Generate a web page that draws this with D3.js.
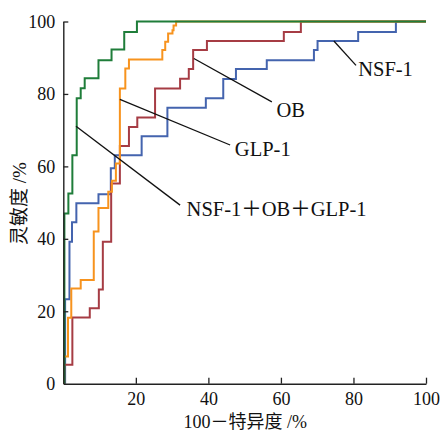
<!DOCTYPE html>
<html>
<head>
<meta charset="utf-8">
<script src="https://cdn.jsdelivr.net/npm/d3@7"></script>
<style>
  body { margin: 0; background: #fff; }
  svg text { font-family: "Liberation Serif", "Times New Roman", Tinos, "DejaVu Serif", "Noto Sans CJK SC", serif; fill: #111; }
</style>
</head>
<body>
<script>
// ROC risers: x = 100-specificity where the curve climbs, top = sensitivity reached
const nsfX   = [0.5, 1.7, 2.4, 3.6, 9.7, 13.1, 14.2, 21.6, 28.7, 39.3, 44.1, 47.6, 56.1, 69.1, 70.1, 81.3, 91.7];
const nsfTop = [23.3, 39.2, 44.6, 49.8, 52.3, 59.5, 63.1, 68.3, 76.2, 78.8, 84.1, 86.9, 89.3, 92.1, 94.6, 97.1, 100];

const obX   = [0.3, 2.5, 7.3, 9.8, 10.9, 13.2, 15.6, 18.1, 20.4, 25.3, 32.2, 34.6, 35.8, 39.6, 60.8, 65.5];
const obTop = [5.2, 18.3, 20.8, 26.0, 39.2, 55.3, 65.6, 70.9, 73.5, 81.5, 84.2, 86.9, 92.1, 94.6, 97.1, 100];

const glpX   = [0.2, 1.3, 2.2, 4.8, 8.4, 9.7, 12.4, 13.4, 14.5, 15.6, 17.1, 18.1, 27.3, 28.1, 28.9, 30.1, 30.4, 31.1];
const glpTop = [7.5, 18.2, 26.3, 28.6, 42.0, 48.5, 53.0, 56.0, 60.8, 81.5, 87.0, 89.5, 92.1, 94.4, 96.7, 97.6, 98.9, 100];

const comboX   = [0.3, 1.4, 2.5, 3.7, 4.8, 5.9, 9.7, 13.3, 16.8, 20.3];
const comboTop = [47.0, 52.5, 63.1, 78.8, 81.6, 84.3, 89.3, 92.3, 97.1, 100];

const ticks = [20, 40, 60, 80, 100];
const yTicks = [0, 20, 40, 60, 80, 100];

const series = [
    {name: "NSF-1", xs: nsfX, tops: nsfTop, color: "#4464ae"},
    {name: "OB", xs: obX, tops: obTop, color: "#a63c44"},
    {name: "GLP-1", xs: glpX, tops: glpTop, color: "#f7931e"},
    {name: "NSF-1＋OB＋GLP-1", xs: comboX, tops: comboTop, color: "#1f7d3a"}
];

// label leader lines, in data units: [x1, y1, x2, y2, textX, textY]
const labels = [
    {text: "NSF-1", pos: [74.6, 94.6, 80.7, 87.9, 81.3, 85.0]},
    {text: "OB", pos: [36.0, 89.8, 57.5, 77.8, 58.8, 73.5]},
    {text: "GLP-1", pos: [15.6, 78.5, 46.0, 65.9, 47.3, 62.8]},
    {text: "NSF-1＋OB＋GLP-1", pos: [3.5, 71.1, 32.2, 49.3, 34.0, 46.3]}
];

const serif = '"Liberation Serif", "Times New Roman", Tinos, "DejaVu Serif", "Noto Sans CJK SC", serif';
const width = 444, height = 432;
const margin = {left: 63.3, top: 21.5, right: 18, bottom: 48.3};

const svg = d3.select("body").append("svg")
    .attr("width", width)
    .attr("height", height);

const x = d3.scaleLinear().domain([0, 100]).range([margin.left, width - margin.right]);
const y = d3.scaleLinear().domain([0, 100]).range([height - margin.bottom, margin.top]);

function stepPoints(xs, tops){
    const pts = [[xs[0], 0]];
    xs.forEach((v, i) => {
        pts.push([v, tops[i]]);
        pts.push([i < xs.length - 1 ? xs[i + 1] : 100, tops[i]]);
    });
    return pts;
}

const line = d3.line()
    .x(d => x(d[0]))
    .y(d => y(d[1]));

svg.append("g").selectAll("path")
    .data(series)
    .enter()
    .append("path")
    .attr("d", d => line(stepPoints(d.xs, d.tops)))
    .style("fill", "none")
    .style("stroke", d => d.color)
    .style("stroke-width", 2);

// axes, ticks pointing inside
const xAxis = svg.append("g")
    .attr("transform", `translate(0,${y(0)})`)
    .call(d3.axisBottom(x).tickValues(ticks).tickSizeInner(-6).tickSizeOuter(0).tickPadding(9));
const yAxis = svg.append("g")
    .attr("transform", `translate(${x(0)},0)`)
    .call(d3.axisLeft(y).tickValues(yTicks).tickSizeInner(-5).tickSizeOuter(0).tickPadding(8));

[xAxis, yAxis].forEach(a => {
    a.attr("font-family", serif);
    a.select(".domain").style("stroke", "#222").style("stroke-width", 1.4);
    a.selectAll(".tick line").style("stroke", "#222").style("stroke-width", 1.3);
    a.selectAll(".tick text")
        .style("font-size", "18px")
        .style("fill", "#111");
});
yAxis.selectAll(".tick").filter(d => d === 0).select("line").remove();

// annotations
const ann = svg.append("g");
labels.forEach(l => {
    const p = l.pos;
    ann.append("line")
        .attr("x1", x(p[0])).attr("y1", y(p[1]))
        .attr("x2", x(p[2])).attr("y2", y(p[3]))
        .style("stroke", "#111")
        .style("stroke-width", 1.3);
    ann.append("text")
        .attr("x", x(p[4]))
        .attr("y", y(p[5]))
        .style("font-size", "20.5px")
        .text(l.text);
});

svg.append("text")
    .attr("x", (x(0) + x(100)) / 2 + 0.5)
    .attr("y", 428)
    .attr("text-anchor", "middle")
    .style("font-size", "18px")
    .text("100－特异度 /%");

svg.append("text")
    .attr("transform", `translate(26,${y(50) + 1}) rotate(-90)`)
    .attr("text-anchor", "middle")
    .style("font-size", "19px")
    .text("灵敏度 /%");
</script>
</body>
</html>
